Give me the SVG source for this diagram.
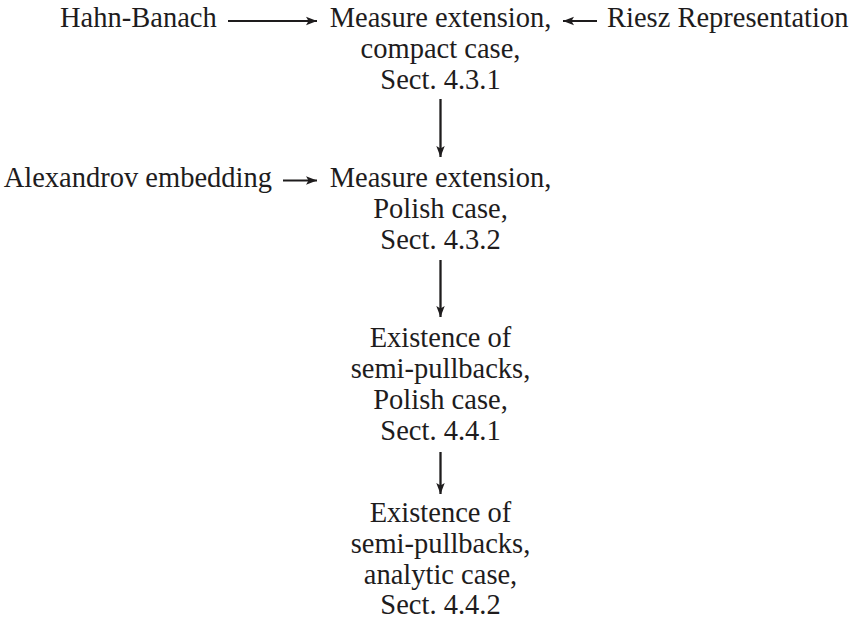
<svg xmlns="http://www.w3.org/2000/svg" width="855" height="621" viewBox="0 0 855 621">
<defs>
<style>
text{font-family:"Liberation Serif","Times New Roman",serif;font-size:28.5px;fill:#1e1c1d}
.c{text-anchor:middle}
.e{text-anchor:end}
.conn line{stroke:#1e1c1d;stroke-width:1.9;fill:none}
.conn line.v{stroke-width:2.3}
</style>
<marker id="ah" markerUnits="userSpaceOnUse" markerWidth="12" markerHeight="10" viewBox="0 0 12 10" refX="11" refY="5" orient="auto">
<path d="M0,0.8 L11,5 L0,9.2 L2.5,5 Z" fill="#1e1c1d"/>
</marker>
</defs>
<rect width="855" height="621" fill="#fff"/>
<g id="hahn-banach"><text x="60" y="27">Hahn-Banach</text></g>
<g id="riesz"><text x="607" y="27">Riesz Representation</text></g>
<g id="alexandrov"><text x="272" y="187" class="e">Alexandrov embedding</text></g>
<g id="measure-compact">
<text class="c" x="440.5" y="27">Measure extension,</text>
<text class="c" x="440.5" y="58">compact case,</text>
<text class="c" x="440.5" y="89">Sect. 4.3.1</text>
</g>
<g id="measure-polish">
<text class="c" x="440.5" y="187">Measure extension,</text>
<text class="c" x="440.5" y="218">Polish case,</text>
<text class="c" x="440.5" y="249">Sect. 4.3.2</text>
</g>
<g id="semi-polish">
<text class="c" x="440.5" y="347">Existence of</text>
<text class="c" x="440.5" y="378">semi-pullbacks,</text>
<text class="c" x="440.5" y="409">Polish case,</text>
<text class="c" x="440.5" y="440">Sect. 4.4.1</text>
</g>
<g id="semi-analytic">
<text class="c" x="440.5" y="522">Existence of</text>
<text class="c" x="440.5" y="553">semi-pullbacks,</text>
<text class="c" x="440.5" y="584">analytic case,</text>
<text class="c" x="440.5" y="614">Sect. 4.4.2</text>
</g>
<g class="conn" id="connectors">
<line x1="228" y1="21" x2="317" y2="21" marker-end="url(#ah)"/>
<line x1="597" y1="21" x2="563" y2="21" marker-end="url(#ah)"/>
<line x1="283" y1="180.5" x2="317" y2="180.5" marker-end="url(#ah)"/>
<line class="v" x1="440.5" y1="99" x2="440.5" y2="157" marker-end="url(#ah)"/>
<line class="v" x1="440.5" y1="260" x2="440.5" y2="317" marker-end="url(#ah)"/>
<line class="v" x1="440.5" y1="452" x2="440.5" y2="494" marker-end="url(#ah)"/>
</g>
</svg>
